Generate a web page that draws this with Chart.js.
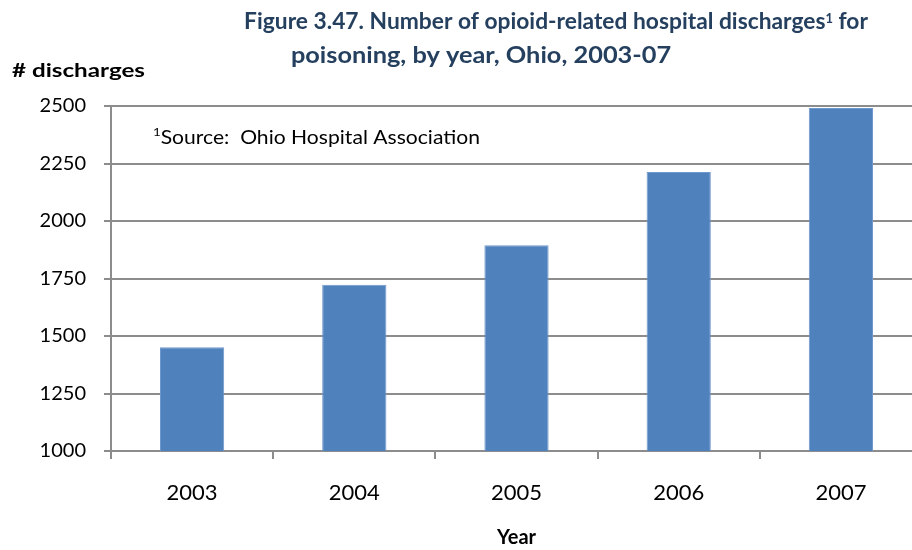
<!DOCTYPE html>
<html>
<head>
<meta charset="utf-8">
<script src="https://cdn.jsdelivr.net/npm/chart.js@4/dist/chart.umd.min.js"></script>
<style>
  html, body { margin: 0; padding: 0; background: #fff; overflow: hidden; }
  #wrap { position: relative; width: 930px; height: 550px; }
</style>
</head>
<body>
<div id="wrap"><canvas id="c" width="930" height="550"></canvas></div>
<script>
// Opioid-related hospital discharges for poisoning, Ohio
const years = ['2003', '2004', '2005', '2006', '2007'];
const discharges = [1451, 1723, 1895, 2213, 2491];
const yTickValues = [1000, 1250, 1500, 1750, 2000, 2250, 2500];

const titleLine1 = 'Figure 3.47. Number of opioid-related hospital discharges';
const titleSup = '1';
const titleLine1End = ' for';
const titleLine2 = 'poisoning, by year, Ohio, 2003-07';
const yAxisLabel = '# discharges';
const noteSup = '1';
const noteText = 'Source:  Ohio Hospital Association';
const xAxisLabel = 'Year';

const TITLE_COLOR = '#25405f';
const BAR_COLOR = '#4f81bd';
const GRID_COLOR = '#8c8c8c';

function measureRun(ctx, parts) {
  let total = 0;
  parts.forEach(p => { ctx.font = p.font; p.w = ctx.measureText(p.text).width; total += p.w; });
  return total;
}

// Draws a run of text pieces (with optional raised superscripts)
// starting at x with a horizontal scale factor sx.
function drawRun(ctx, parts, x, baseline, sx, color) {
  measureRun(ctx, parts);
  ctx.save();
  ctx.translate(x, baseline);
  ctx.scale(sx, 1);
  ctx.fillStyle = color;
  ctx.textAlign = 'left';
  ctx.textBaseline = 'alphabetic';
  let cx = 0;
  parts.forEach(p => {
    ctx.font = p.font;
    ctx.fillText(p.text, cx, -(p.rise || 0));
    cx += p.w;
  });
  ctx.restore();
}

// Fit a run into a given width
function fitRun(ctx, parts, x, baseline, width, color) {
  const w = measureRun(ctx, parts);
  drawRun(ctx, parts, x, baseline, width / w, color);
}

const textPlugin = {
  id: 'headings',
  afterDraw(chart) {
    const ctx = chart.ctx;
    const tb = 'bold 23px Lato';
    const line1 = [
      { text: titleLine1, font: tb },
      { text: titleSup, font: 'bold 13px Lato', rise: 6 },
      { text: titleLine1End, font: tb }
    ];
    const line2 = [{ text: titleLine2, font: tb }];
    const w1 = measureRun(ctx, line1);
    const w2 = measureRun(ctx, line2);
    // blend a shared scale with each line's own fit so both lines look alike
    const shared = (599 + 405) / (w1 + w2);
    const sx1 = (shared + 599 / w1) / 2;
    const sx2 = (shared + 405 / w2) / 2;
    drawRun(ctx, line1, 556 - w1 * sx1 / 2, 29, sx1, TITLE_COLOR);
    drawRun(ctx, line2, 481 - w2 * sx2 / 2, 63, sx2, TITLE_COLOR);

    fitRun(ctx, [{ text: yAxisLabel, font: 'bold 19px Lato' }], 12, 77, 133, '#000');
    fitRun(ctx, [
      { text: noteSup, font: '12px Lato', rise: 8 },
      { text: noteText, font: '19px Lato' }
    ], 153, 144, 327, '#000');
  }
};

new Chart(document.getElementById('c'), {
  type: 'bar',
  data: {
    labels: years,
    datasets: [{
      data: discharges,
      backgroundColor: BAR_COLOR,
      borderColor: '#6f98cc',
      borderWidth: 1,
      barPercentage: 0.396,
      categoryPercentage: 1.0
    }]
  },
  options: {
    responsive: false,
    animation: false,
    devicePixelRatio: 1,
    layout: { padding: { top: 106, right: 8, left: 0, bottom: 0 } },
    plugins: {
      legend: { display: false },
      tooltip: { enabled: false },
      title: { display: false }
    },
    scales: {
      x: {
        offset: true,
        grid: {
          display: true, offset: true, drawOnChartArea: false, drawTicks: true,
          tickLength: 8, color: GRID_COLOR, lineWidth: 2
        },
        border: { display: true, color: GRID_COLOR, width: 2 },
        ticks: { font: { family: 'Lato', size: 22 }, color: '#000', padding: 21 },
        title: {
          display: true, text: xAxisLabel, color: '#000',
          font: { family: 'Lato', size: 20, weight: 'bold' }, padding: 0
        },
        afterFit(scale) { scale.height = 99; }
      },
      y: {
        min: 1000,
        max: 2500,
        afterBuildTicks(scale) { scale.ticks = yTickValues.map(v => ({ value: v })); },
        grid: { color: GRID_COLOR, lineWidth: 2, tickLength: 7, drawTicks: true },
        border: { display: true, color: GRID_COLOR, width: 2 },
        ticks: {
          font: { family: 'Lato', size: 20 }, color: '#000', padding: 18,
          callback: v => String(v)
        },
        afterFit(scale) { scale.width = 111; }
      }
    }
  },
  plugins: [textPlugin]
});
</script>
</body>
</html>
